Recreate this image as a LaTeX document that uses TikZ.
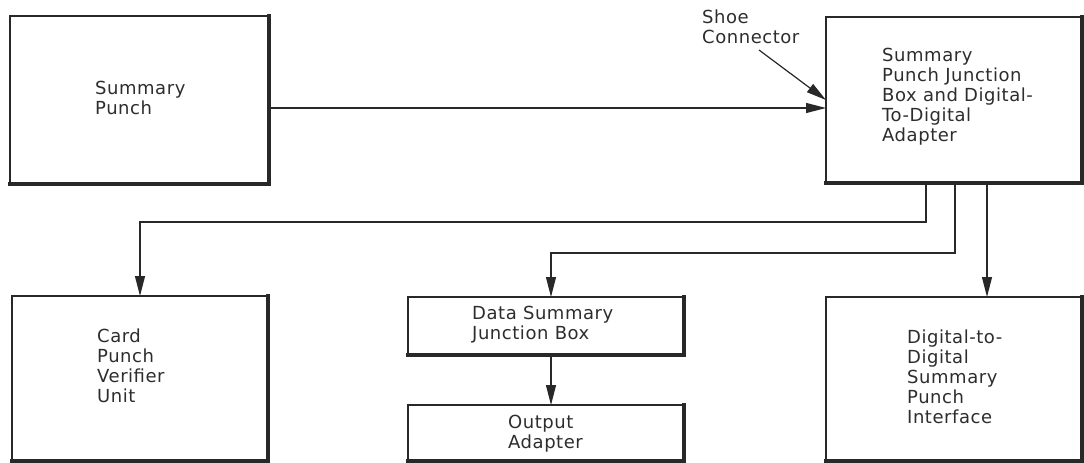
\documentclass[tikz,border=0pt]{standalone}
\usepackage{fontspec}
\usetikzlibrary{arrows.meta}
\newfontfamily\lblfont{DejaVu Sans}[LetterSpace=3]
\definecolor{ink}{RGB}{40,40,40}
\definecolor{txt}{RGB}{45,45,45}
\begin{document}
\begin{tikzpicture}[x=1pt,y=-1pt,
  box/.style={draw=ink, line width=1.6pt, rectangle, inner sep=0pt, outer sep=0pt},
  heavy/.style={draw=ink, line width=3.2pt, line cap=rect},
  lbl/.style={font=\lblfont\fontsize{18}{20}\selectfont, text=txt, align=left, inner sep=0pt, anchor=north west},
  conn/.style={draw=ink, line width=1.2pt, -{Triangle[length=20pt,width=10pt]}}]
\useasboundingbox (0,0) rectangle (1084,463);
% boxes
\node[box, minimum width=259pt, minimum height=168pt] (sp) at (139.5,100) {};
\node[box, minimum width=256pt, minimum height=166pt] (spjb) at (954,100) {};
\node[box, minimum width=256pt, minimum height=165pt] (cpv) at (140,378.5) {};
\node[box, minimum width=276pt, minimum height=58pt] (dsjb) at (546,326) {};
\node[box, minimum width=276pt, minimum height=56pt] (oa) at (546,433) {};
\node[box, minimum width=256pt, minimum height=164pt] (dspi) at (954,379) {};
\foreach \n in {sp,spjb,cpv,dsjb,oa,dspi}
  \draw[heavy] (\n.south west) -- (\n.south east) -- (\n.north east);
% texts
\node[lbl] (tsp) at (95,81) {Summary\\Punch};
\node[lbl] (tspjb) at (882,48) {Summary\\Punch Junction\\Box and Digital-\\To-Digital\\Adapter};
\node[lbl] (tshoe) at (702,10) {Shoe\\Connector};
\node[lbl] (tcpv) at (97,329) {Card\\Punch\\Verifier\\Unit};
\node[lbl] (tdsjb) at (472,306) {Data Summary\\Junction Box};
\node[lbl] (toa) at (508,415) {Output\\Adapter};
\node[lbl] (tdspi) at (907,330) {Digital-to-\\Digital\\Summary\\Punch\\Interface};
% connectors
\coordinate (shoetail) at (759,50);
\draw[conn] ([yshift=-8pt]sp.east) -- ([yshift=-8pt]spjb.west);
\draw[conn] (shoetail) -- (spjb.west);
\draw[conn] ([xshift=-28pt]spjb.south) -- ++(0,39) -| (cpv.north);
\draw[conn] ([xshift=1pt]spjb.south) -- ++(0,70) -| ([xshift=5pt]dsjb.north);
\draw[conn] ([xshift=33pt]spjb.south) -- ([xshift=33pt]dspi.north);
\draw[conn] ([xshift=5pt]dsjb.south) -- ([xshift=5pt]oa.north);
\end{tikzpicture}
\end{document}
